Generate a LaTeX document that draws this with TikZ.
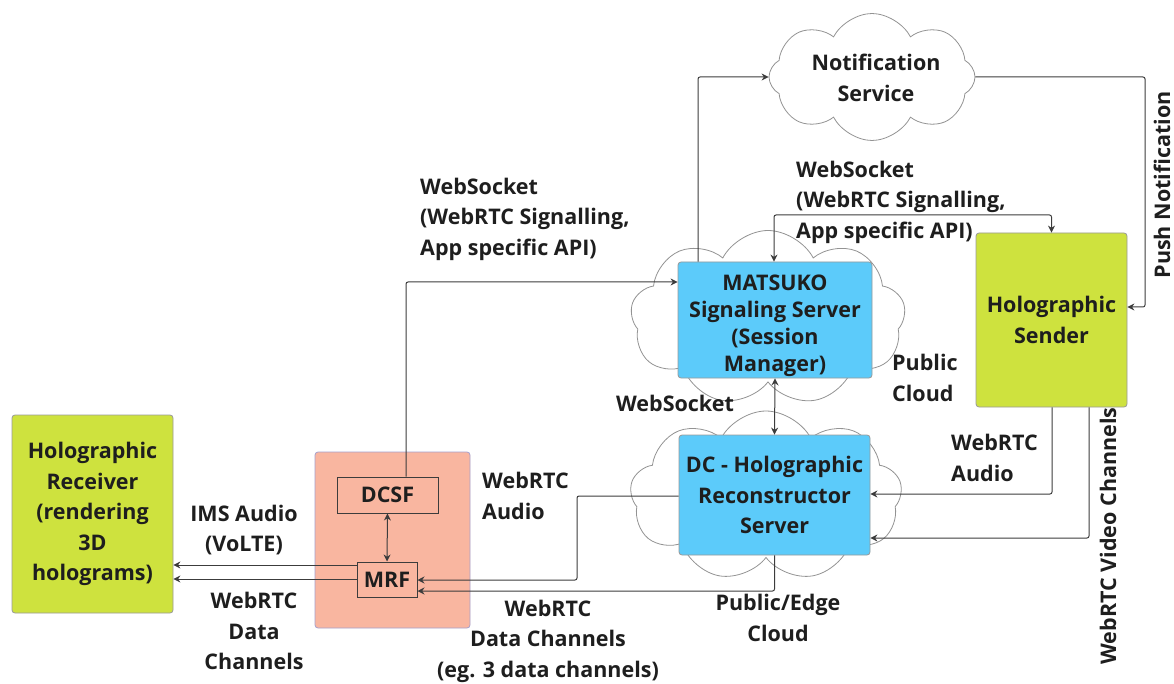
\documentclass[tikz,border=0pt]{standalone}
\usepackage{fontspec}
\setmainfont{Open Sans}
\usetikzlibrary{shapes.symbols,arrows.meta,calc}
\definecolor{grn}{RGB}{206,226,62}
\definecolor{blu}{RGB}{92,203,250}
\definecolor{pnk}{RGB}{249,182,160}
\definecolor{pbd}{RGB}{165,160,205}
\definecolor{ln}{RGB}{60,60,60}
\definecolor{txt}{RGB}{30,30,30}
\tikzset{
  every node/.style={font=\fontsize{21.5}{30.5}\selectfont\bfseries, text=txt},
  lbl/.style={align=center, inner sep=0pt},
  lbll/.style={align=left, inner sep=0pt, anchor=west},
  cloudy/.style={cloud, cloud puffs=9, cloud puff arc=125, draw=gray!85, line width=0.8pt, fill=white, inner sep=0pt, aspect=1.6},
  box/.style={draw=gray!80, rounded corners=3pt, line width=0.8pt, align=center, inner sep=0pt},
  sbox/.style={draw=ln, line width=1pt, align=center, inner sep=0pt, fill=pnk},
  arr/.style={draw=ln, line width=1pt, rounded corners=2pt, -{Stealth[length=7pt,width=7pt]}},
  arrr/.style={draw=ln, line width=1pt, rounded corners=2pt, {Stealth[length=7pt,width=7pt]}-{Stealth[length=7pt,width=7pt]}},
}
\begin{document}
\begin{tikzpicture}[x=1pt,y=-1pt]
\useasboundingbox (0,0) rectangle (1174,684);
% clouds
\node[cloudy, minimum width=206pt, minimum height=127pt, cloud puffs=8] (notif) at (872,77) {};
\node[lbl] (notift) at (876,78) {Notification\\Service};
\node[cloudy, minimum width=275pt, minimum height=175pt] (matc) at (768,318) {};
\node[cloudy, minimum width=272pt, minimum height=170pt] (dcc) at (766,496) {};
% boxes
\node[box, fill=grn, minimum width=161pt, minimum height=198pt] (rec) at (92.5,514) {Holographic\\Receiver\\(rendering\\3D\\holograms)};
\node[box, fill=pnk, draw=pbd, minimum width=155pt, minimum height=176pt] (pink) at (392.5,540) {};
\node[sbox, minimum width=101pt, minimum height=36pt] (dcsf) at (387.5,495) {DCSF};
\node[sbox, minimum width=60pt, minimum height=35pt] (mrf) at (387,579.5) {MRF};
\node[box, fill=blu, minimum width=194pt, minimum height=116pt] (mat) at (775,320) {};
\node[lbl, font=\fontsize{21.5}{27}\selectfont\bfseries] (matt) at (775,326) {MATSUKO\\Signaling Server\\(Session\\Manager)};
\node[box, fill=blu, minimum width=191pt, minimum height=120pt] (dc) at (774.5,495) {DC - Holographic\\Reconstructor\\Server};
\node[box, fill=grn, minimum width=151pt, minimum height=174pt] (snd) at (1051.5,320) {Holographic\\Sender};
% helper coordinates
\coordinate (pn) at (1145,200);
\coordinate (ms) at (913,215);
\coordinate (c8) at (577,540);
% connectors
\draw[arr] ([xshift=18.5pt]dcsf.north) |- ([yshift=38pt]mat.west);
\draw[arr] ([xshift=-77pt]mat.north) |- (notif.west);
\draw[arr] (notif.east) -| (pn) |- ([yshift=13pt]snd.east);
\draw[arrr] ([xshift=-1pt]mat.north) |- (ms) -| (snd.north);
\draw[arrr] (mat.south) -- (dc.north);
\draw[arr] ([xshift=0.5pt]snd.south) |- ([yshift=1pt]dc.east);
\draw[arr] ([xshift=37.5pt]snd.south) |- ([yshift=-43pt]dc.east);
\draw[arr] ([yshift=-1pt]dc.west) -| (c8) |- ([yshift=-0.5pt]mrf.east);
\draw[arr] (dc.south) |- ([yshift=-11.5pt]mrf.east);
\draw[arr] ([yshift=14.5pt]mrf.west) -- ([yshift=14.5pt]mrf.west -| rec.east);
\draw[arr] ([yshift=0.5pt]mrf.west) -- ([yshift=0.5pt]mrf.west -| rec.east);
\draw[arrr] (dcsf.south) -- (mrf.north);
% labels
\node[lbll] (l1) at (420,219) {WebSocket\\(WebRTC Signalling,\\App specific API)};
\node[lbll] (l2) at (796,202) {WebSocket\\(WebRTC Signalling,\\App specific API)};
\node[lbl, rotate=90] (l3) at (1162,185) {Push Notification};
\node[lbll] (l4) at (892,378) {Public\\Cloud};
\node[lbl] (l5) at (675,403) {WebSocket};
\node[lbll] (l6) at (951,458) {WebRTC\\Audio};
\node[lbl, rotate=90] (l7) at (1108,536) {WebRTC Video Channels};
\node[lbl] (l8) at (778,618) {Public/Edge\\Cloud};
\node[lbl] (l9) at (548,641) {WebRTC\\Data Channels\\(eg. 3 data channels)};
\node[lbll] (l10) at (482,496) {WebRTC\\Audio};
\node[lbl] (l11) at (244,530) {IMS Audio\\(VoLTE)};
\node[lbl] (l12) at (254,631) {WebRTC\\Data\\Channels};
\end{tikzpicture}
\end{document}
